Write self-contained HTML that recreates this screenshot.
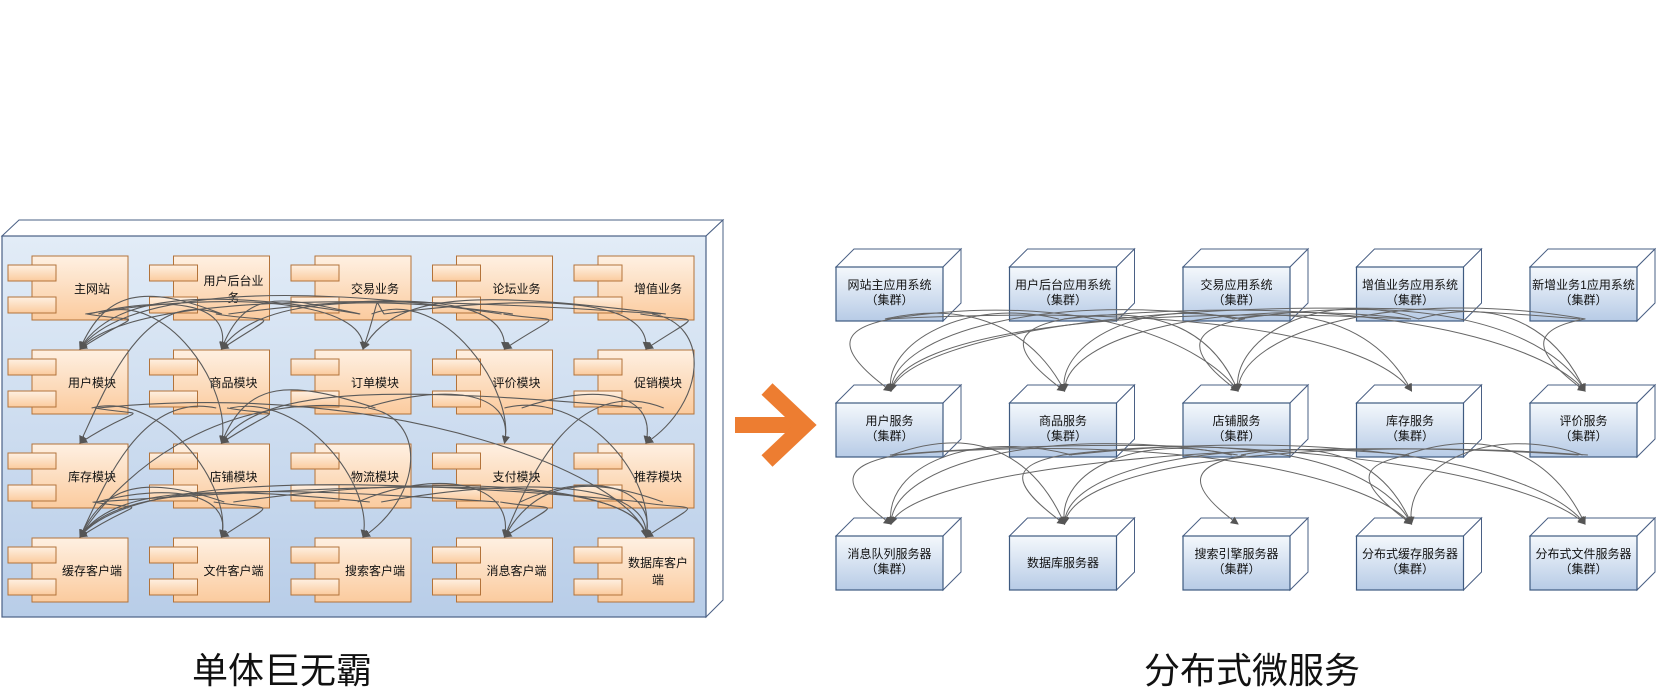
<!DOCTYPE html>
<html><head><meta charset="utf-8">
<style>
html,body{margin:0;padding:0;background:#fff;width:1656px;height:689px;overflow:hidden}
svg{display:block}
text{font-family:"Liberation Sans","Noto Sans CJK SC",sans-serif}
</style></head>
<body>
<svg id="s" width="1656" height="689" viewBox="0 0 1656 689" xmlns="http://www.w3.org/2000/svg">
<defs>
<linearGradient id="bg" x1="0" y1="0" x2="0" y2="1"><stop offset="0" stop-color="#e2ecf7"/><stop offset="1" stop-color="#b8cde8"/></linearGradient>
<linearGradient id="cg" x1="0" y1="0" x2="0" y2="1"><stop offset="0" stop-color="#fef0e2"/><stop offset="1" stop-color="#fbcb9e"/></linearGradient>
<linearGradient id="ng" x1="0" y1="0" x2="0" y2="1"><stop offset="0" stop-color="#f4f8fc"/><stop offset="1" stop-color="#b7cbe6"/></linearGradient>
<marker id="ah" markerWidth="8" markerHeight="8" refX="7" refY="4" orient="auto" markerUnits="userSpaceOnUse"><path d="M0,0 L8,4 L0,8 z" fill="#555"/></marker>
</defs>
<!-- left outer box -->
<polygon points="2,236 19,220 723,220 706,236" fill="#fff" stroke="#4a6085" stroke-width="1"/>
<polygon points="706,236 723,220 723,600 706,617" fill="#fff" stroke="#4a6085" stroke-width="1"/>
<rect x="2" y="236" width="704" height="381" fill="url(#bg)" stroke="#4a6085" stroke-width="1.2"/>
<g id="left"></g>
<g id="leftc" fill="none" stroke="#5a5a5a" stroke-width="1.1"></g>
<!-- arrow -->
<rect x="735" y="417" width="60" height="16" fill="#ED7D31"/>
<polyline points="767,389 805,425 767,461" fill="none" stroke="#ED7D31" stroke-width="16" stroke-linejoin="miter"/>
<g id="right"></g>
<g id="rightc" fill="none" stroke="#666" stroke-width="1"></g>
<text x="282" y="683" font-size="36" text-anchor="middle" fill="#111">单体巨无霸</text>
<text x="1252" y="683" font-size="36" text-anchor="middle" fill="#111">分布式微服务</text>
</svg>
<script>
var NS="http://www.w3.org/2000/svg";
function el(p,t,a,txt){var e=document.createElementNS(NS,t);for(var k in a)e.setAttribute(k,a[k]);if(txt)e.textContent=txt;p.appendChild(e);return e;}
var L=document.getElementById('left'),LC=document.getElementById('leftc'),R=document.getElementById('right'),RC=document.getElementById('rightc');
var ll=[["主网站","用户后台业|务","交易业务","论坛业务","增值业务"],["用户模块","商品模块","订单模块","评价模块","促销模块"],["库存模块","店铺模块","物流模块","支付模块","推荐模块"],["缓存客户端","文件客户端","搜索客户端","消息客户端","数据库客户|端"]];
function bx(i){return 32+141.5*i} function by(j){return 256+94*j}
for(var j=0;j<4;j++)for(var i=0;i<5;i++){var x=bx(i),y=by(j);
el(L,'rect',{x:x,y:y,width:96,height:64,fill:'url(#cg)',stroke:'#b3733a','stroke-width':1});
el(L,'rect',{x:x-24,y:y+9,width:48,height:16,fill:'url(#cg)',stroke:'#b3733a','stroke-width':1});
el(L,'rect',{x:x-24,y:y+41,width:48,height:16,fill:'url(#cg)',stroke:'#b3733a','stroke-width':1});
var t=ll[j][i].split('|');
if(t.length==1)el(L,'text',{x:x+60,y:y+37,'font-size':12,'text-anchor':'middle',fill:'#111'},t[0]);
else{el(L,'text',{x:x+60,y:y+29,'font-size':12,'text-anchor':'middle',fill:'#111'},t[0]);el(L,'text',{x:x+60,y:y+46,'font-size':12,'text-anchor':'middle',fill:'#111'},t[1]);}
}
var seed=7;function rnd(){seed=(seed*9301+49297)%233280;return seed/233280;}
function curve(G,sx,sy,tx,ty,bend){var dx=tx-sx;var c1x,c1y,c2x,c2y;
if(Math.abs(dx)<20){c1x=sx+bend;c1y=sy+10;c2x=tx+bend;c2y=ty-40;}
else{c1x=sx+dx*0.55;c1y=sy-15-rnd()*20;c2x=tx-dx*0.05+bend*0.3;c2y=ty-45-rnd()*20;}
el(G,'path',{d:'M'+sx+','+sy+' C'+c1x+','+c1y+' '+c2x+','+c2y+' '+tx+','+ty,'marker-end':'url(#ah)'});}
// left edges
var le=[[0,0,1,0],[0,0,1,1],[0,0,1,2],[0,0,2,1],[0,1,1,0],[0,1,1,1],[0,1,1,3],[0,2,1,0],[0,2,1,1],[0,2,1,2],[0,2,1,4],[0,2,2,3],[0,3,1,0],[0,3,1,3],[0,3,1,1],[0,4,1,0],[0,4,1,4],[0,4,1,2],[0,4,2,4],[0,1,2,0],
[1,0,2,0],[1,0,3,1],[1,1,2,1],[1,1,3,0],[1,2,2,1],[1,2,2,3],[1,2,3,2],[1,3,2,4],[1,3,3,4],[1,4,2,1],[1,4,3,3],[1,0,3,4],[1,1,3,2],[1,2,3,0],
[2,0,3,0],[2,0,3,4],[2,1,3,1],[2,1,3,0],[2,2,3,3],[2,2,3,4],[2,3,3,3],[2,3,3,4],[2,4,3,4],[2,4,3,0],[2,1,3,4],[2,0,3,1],[2,3,3,0],[2,4,3,3],[2,2,3,0]];
le.forEach(function(e){var sx=bx(e[1])+40+rnd()*30,sy=by(e[0])+58,tx=bx(e[3])+48,ty=by(e[2])-1;curve(LC,sx,sy,tx,ty,60);});
// right nodes
var rl=[["网站主应用系统","用户后台应用系统","交易应用系统","增值业务应用系统","新增业务1应用系统"],["用户服务","商品服务","店铺服务","库存服务","评价服务"],["消息队列服务器","数据库服务器","搜索引擎服务器","分布式缓存服务器","分布式文件服务器"]];
var ry=[267,403,536];function rx(i){return 836+173.5*i}
for(var j=0;j<3;j++)for(var i=0;i<5;i++){var x=rx(i),y=ry[j],w=107,h=54,d=18;
el(R,'polygon',{points:x+','+y+' '+(x+d)+','+(y-d)+' '+(x+w+d)+','+(y-d)+' '+(x+w)+','+y,fill:'#fff',stroke:'#4a6085','stroke-width':1});
el(R,'polygon',{points:(x+w)+','+y+' '+(x+w+d)+','+(y-d)+' '+(x+w+d)+','+(y+h-d)+' '+(x+w)+','+(y+h),fill:'#fff',stroke:'#4a6085','stroke-width':1});
el(R,'rect',{x:x,y:y,width:w,height:h,fill:'url(#ng)',stroke:'#3e5a80','stroke-width':1.2});
if(j==2&&i==1)el(R,'text',{x:x+w/2,y:y+31,'font-size':12,'text-anchor':'middle',fill:'#111'},rl[j][i]);
else{el(R,'text',{x:x+w/2,y:y+22,'font-size':12,'text-anchor':'middle',fill:'#111'},rl[j][i]);el(R,'text',{x:x+w/2,y:y+37,'font-size':12,'text-anchor':'middle',fill:'#111'},'（集群）');}
}
var re=[[0,0,0],[0,0,1],[0,0,2],[0,0,3],[0,1,0],[0,1,1],[0,1,2],[0,1,4],[0,2,0],[0,2,1],[0,2,2],[0,2,3],[0,3,0],[0,3,1],[0,3,4],[0,4,0],[0,4,2],[0,4,4],[0,3,2],[0,2,4],
[1,0,0],[1,0,1],[1,0,3],[1,1,0],[1,1,1],[1,1,4],[1,2,0],[1,2,1],[1,2,2],[1,2,3],[1,3,1],[1,3,3],[1,3,4],[1,4,0],[1,4,1],[1,4,3],[1,0,4],[1,1,3]];
re.forEach(function(e){var sx=rx(e[1])+48+rnd()*15,sy=ry[e[0]]+52,tx=rx(e[2])+55,ty=ry[e[0]+1]-12;curve(RC,sx,sy,tx,ty,-55);});
</script>
</body></html>
